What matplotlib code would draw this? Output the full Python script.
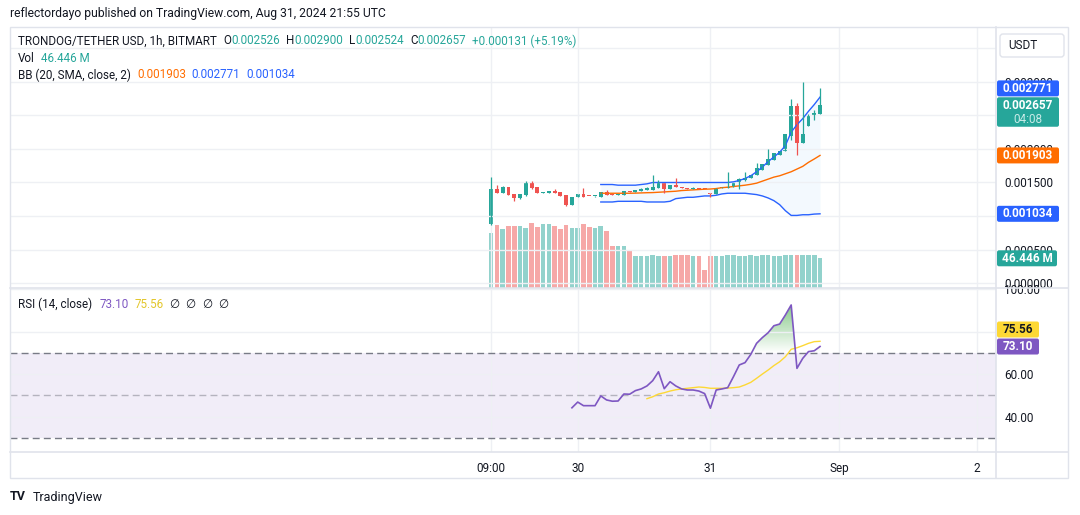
import matplotlib

matplotlib.use("Agg")

import numpy as np
import matplotlib.pyplot as plt
from matplotlib.colors import LinearSegmentedColormap
from matplotlib.lines import Line2D
from matplotlib.patches import FancyBboxPatch, Rectangle
from matplotlib.path import Path
from matplotlib.transforms import IdentityTransform

plt.rcParams["font.family"] = ["Roboto", "DejaVu Sans"]

# ---- data (1h candles, index 0 = Aug 29 09:00) ----
opens = [0.000882, 0.001403, 0.001348, 0.001429, 0.001329, 0.001265, 0.001314, 0.001488,
         0.001429, 0.001348, 0.00135, 0.001373, 0.00136, 0.001314, 0.00117, 0.00128,
         0.001329, 0.0013, 0.001294, 0.001289, 0.001359, 0.00132, 0.001315, 0.00132,
         0.001373, 0.001355, 0.001379, 0.001385, 0.001389, 0.001414, 0.001488, 0.001403,
         0.001463, 0.00143, 0.001421, 0.001409, 0.001414, 0.001404, 0.00134, 0.001329,
         0.001414, 0.00142, 0.001433, 0.001488, 0.00153, 0.001562, 0.001612, 0.001686,
         0.00176, 0.001835, 0.001909, 0.001969, 0.002196, 0.002638, 0.002092, 0.002345,
         0.002494, 0.002526]
highs = [0.001586, 0.001461, 0.00145, 0.001432, 0.001332, 0.001335, 0.001522, 0.001522,
         0.001432, 0.001362, 0.001376, 0.0014, 0.001362, 0.001316, 0.00128, 0.001333,
         0.001418, 0.001302, 0.0013, 0.001362, 0.001389, 0.001322, 0.001322, 0.001376,
         0.001376, 0.001392, 0.001414, 0.001438, 0.001612, 0.001537, 0.00149, 0.001466,
         0.001562, 0.001433, 0.001424, 0.001433, 0.001416, 0.001406, 0.00135, 0.001416,
         0.001433, 0.001652, 0.001492, 0.001562, 0.001661, 0.001615, 0.001786, 0.001774,
         0.001998, 0.001938, 0.001972, 0.00222, 0.002743, 0.002679, 0.00299, 0.00252,
         0.002579, 0.0029]
lows = [0.00087, 0.00134, 0.001345, 0.001318, 0.001229, 0.00126, 0.001296, 0.001403,
        0.001345, 0.001346, 0.001348, 0.001348, 0.0013, 0.001155, 0.001168, 0.001278,
        0.001288, 0.001292, 0.00129, 0.001287, 0.001317, 0.001312, 0.001313, 0.001318,
        0.001362, 0.001353, 0.001377, 0.001383, 0.001387, 0.001412, 0.001339, 0.0014,
        0.001427, 0.001418, 0.001407, 0.001407, 0.001402, 0.001398, 0.00128, 0.001327,
        0.001412, 0.001418, 0.00143, 0.001403, 0.001528, 0.00156, 0.00161, 0.001684,
        0.001758, 0.001833, 0.001907, 0.001967, 0.002132, 0.001909, 0.00209, 0.002343,
        0.00243, 0.002524]
closes = [0.001403, 0.001348, 0.001437, 0.001318, 0.001265, 0.001329, 0.001488, 0.001423,
          0.001348, 0.00136, 0.001373, 0.00135, 0.0013, 0.001165, 0.00128, 0.001329,
          0.00129, 0.001294, 0.001298, 0.001359, 0.001319, 0.001315, 0.00132, 0.001373,
          0.001365, 0.001389, 0.001399, 0.001414, 0.001438, 0.001488, 0.001403, 0.001463,
          0.00143, 0.00142, 0.001409, 0.001414, 0.001404, 0.0014, 0.001335, 0.001414,
          0.00142, 0.00143, 0.001488, 0.001552, 0.001571, 0.001612, 0.001711, 0.001771,
          0.00185, 0.001935, 0.001969, 0.002217, 0.002638, 0.002092, 0.002217, 0.002494,
          0.00253, 0.002657]
volume_m = [85.5, 98.0, 91.7, 96.4, 96.4, 96.4, 93.3, 101.1, 94.9, 99.6, 99.6, 96.4,
            91.7, 98.0, 93.3, 93.3, 99.6, 94.9, 93.3, 96.4, 88.6, 65.2, 65.2, 65.2,
            58.9, 49.5, 49.5, 49.5, 51.1, 49.5, 49.5, 49.5, 51.1, 51.1, 51.1, 49.5,
            49.5, 27.6, 49.5, 49.5, 49.5, 51.1, 51.1, 49.5, 49.5, 51.1, 49.5, 51.1,
            51.1, 49.5, 49.5, 51.1, 51.1, 51.1, 51.1, 51.1, 51.1, 46.446]

# Bollinger Bands (20, SMA, close, 2), first value at candle 19
bb_start = 19
bb_upper = [0.00147, 0.00147, 0.00147, 0.00146, 0.00146, 0.00146, 0.00146, 0.00147,
            0.00148, 0.00150, 0.00150, 0.00150, 0.00150, 0.00150, 0.00150, 0.00150,
            0.00150, 0.00150, 0.00150, 0.00150, 0.00150, 0.00150, 0.00150, 0.00151,
            0.00153, 0.00156, 0.00160, 0.00166, 0.00173, 0.00181, 0.00188, 0.00195,
            0.00205, 0.00225, 0.00236, 0.00245, 0.00256, 0.00266, 0.002771]
bb_mid = [0.00134, 0.00134, 0.00134, 0.00134, 0.00134, 0.00134, 0.001342, 0.001345,
          0.001348, 0.00135, 0.001355, 0.00136, 0.001365, 0.00137, 0.00138, 0.001385,
          0.00139, 0.001395, 0.0014, 0.001403, 0.00141, 0.001423, 0.00143, 0.00144,
          0.00145, 0.00146, 0.001473, 0.00149, 0.00152, 0.00155, 0.00158, 0.0016,
          0.00163, 0.00166, 0.0017, 0.00174, 0.0018, 0.00185, 0.001903]
bb_lower = [0.00121, 0.00121, 0.00121, 0.00122, 0.00122, 0.00122, 0.00122, 0.00122,
            0.00121, 0.00121, 0.00121, 0.00121, 0.00122, 0.00126, 0.00127, 0.00128,
            0.00128, 0.00129, 0.0013, 0.0013, 0.00131, 0.00133, 0.00134, 0.00134,
            0.00134, 0.00134, 0.00133, 0.00132, 0.0013, 0.00127, 0.00123, 0.00117,
            0.00108, 0.00101, 0.00101, 0.00102, 0.00102, 0.00103, 0.001034]

# RSI (14, close) from candle 14, its MA from candle 27
rsi_start = 14
rsi_vals = [44.2, 46.9, 45.2, 45.2, 45.2, 49.8, 47.9, 47.3, 47.4, 50.7, 50.6, 52.3,
            53.1, 54.5, 57.0, 61.2, 53.2, 56.5, 54.5, 53.1, 52.6, 52.6, 52.1, 50.9,
            44.0, 52.6, 53.1, 53.7, 58.9, 64.4, 65.5, 69.4, 74.6, 77.3, 79.6, 82.9,
            83.7, 88.0, 92.7, 62.8, 67.5, 70.7, 71.1, 73.10]
rsi_ma_start = 27
rsi_ma = [48.5, 49.4, 50.7, 51.3, 52.1, 52.7, 53.1, 53.4, 53.7, 54.0, 53.8, 53.4,
          53.4, 53.4, 53.5, 53.7, 54.0, 55.0, 56.2, 58.1, 60.1, 62.0, 64.1, 65.9,
          68.3, 71.8, 72.5, 73.5, 74.6, 75.4, 75.56]

price_ticks = [0.0, 0.0005, 0.001, 0.0015, 0.002, 0.0025, 0.003, 0.0035]
# labels of 0.001 and 0.0025 sit fully under the value tags, so they stay blank
price_labels = ["0.000000", "0.000500", "", "0.001500", "0.002000", "", "0.003000", ""]
rsi_ticks = [40, 60, 80, 100]
rsi_labels = ["40.00", "60.00", "", "100.00"]
xtick_pos = [0, 15, 38, 60.3, 84.2]
xtick_labels = ["09:00", "30", "31", "Sep", "2"]

HEADER = "reflectordayo published on TradingView.com, Aug 31, 2024 21:55 UTC"

# ---- colours ----
UP, DOWN = "#26a69a", "#ef5350"
DARK = "#131722"
GRID = "#eef0f4"
BORDER = "#e0e3eb"
BLUE, ORANGE = "#2962ff", "#ff6d00"
PURPLE, YELLOW = "#7e57c2", "#fdd835"

W, H = 1080, 515
fig = plt.figure(figsize=(W / 100, H / 100), dpi=100)
fig.patch.set_facecolor("white")


def rect(x0, y0, x1, y1):
    # pixel box with top-left origin -> add_axes rect
    return [x0 / W, 1 - y1 / H, (x1 - x0) / W, (y1 - y0) / H]


XL = (-83.4, 87.5)
idx = np.arange(len(opens))
o, h, l, c = map(np.array, (opens, highs, lows, closes))
cols = np.where(c >= o, UP, DOWN)

# ---- main pane: volume behind, price on top ----
ax = fig.add_axes(rect(10, 27, 996, 288))
axv = ax.twinx()
axv.set_zorder(ax.get_zorder() - 1)
ax.patch.set_visible(False)
axv.patch.set_facecolor("white")

axv.bar(idx, volume_m, width=0.8, color=cols, alpha=0.5, linewidth=0)
axv.set_ylim(0, 408)
axv.set_yticks([])

ax.set_xlim(*XL)
ax.set_ylim(-0.00007, 0.003814)
px = 1 / 67200  # one pixel in price units, for doji bodies
bb_x = np.arange(bb_start, bb_start + len(bb_mid))
ax.fill_between(bb_x, bb_lower, bb_upper, color="#2196f3", alpha=0.05, linewidth=0)
ax.plot(bb_x, bb_upper, color=BLUE, lw=1)
ax.plot(bb_x, bb_lower, color=BLUE, lw=1)
ax.plot(bb_x, bb_mid, color=ORANGE, lw=1)
ax.vlines(idx, l, h, colors=cols, lw=0.9)
ax.bar(idx, np.maximum(np.abs(c - o), px), bottom=np.minimum(o, c), width=0.68,
       color=cols, linewidth=0)

ax.yaxis.tick_right()
ax.set_yticks(price_ticks, price_labels)
ax.set_xticks(xtick_pos)
ax.tick_params(axis="both", length=0, labelsize=8.5, labelcolor=DARK, pad=6)
ax.tick_params(axis="x", labelbottom=False)
ax.grid(True, color=GRID, lw=1)
for s in ax.spines.values():
    s.set_visible(False)
for s in axv.spines.values():
    s.set_visible(False)

# ---- RSI pane ----
axr = fig.add_axes(rect(10, 288, 996, 452))
axr.set_xlim(*XL)
axr.set_ylim(23.35, 100.7)
axr.axhspan(30, 70, color=PURPLE, alpha=0.1, lw=0)
axr.axhline(70, color="#787b86", lw=1, dashes=(5, 3))
axr.axhline(50, color="#787b86", lw=1, dashes=(5, 3), alpha=0.5)
axr.axhline(30, color="#787b86", lw=1, dashes=(5, 3))

rsi_x = np.arange(rsi_start, rsi_start + len(rsi_vals))
rsi = np.array(rsi_vals)
poly = axr.fill_between(rsi_x, 70, rsi, where=rsi >= 70, interpolate=True,
                        color="none", lw=0)
green = LinearSegmentedColormap.from_list(
    "g", [(0.30, 0.69, 0.31, 0.0), (0.30, 0.69, 0.31, 0.75)])
im = axr.imshow(np.linspace(0, 1, 256).reshape(-1, 1), cmap=green, origin="lower",
                aspect="auto", extent=[rsi_x[0], rsi_x[-1], 70, 95], zorder=1.5)
im.set_clip_path(Path.make_compound_path(*poly.get_paths()), transform=axr.transData)
axr.set_xlim(*XL)
axr.set_ylim(23.35, 100.7)

ma_x = np.arange(rsi_ma_start, rsi_ma_start + len(rsi_ma))
axr.plot(ma_x, rsi_ma, color=YELLOW, lw=1, zorder=3)
axr.plot(rsi_x, rsi, color=PURPLE, lw=1.2, zorder=4)

axr.yaxis.tick_right()
axr.set_yticks(rsi_ticks, rsi_labels)
axr.set_xticks(xtick_pos, xtick_labels)
axr.tick_params(axis="both", length=0, labelsize=8.5, labelcolor=DARK)
axr.tick_params(axis="y", pad=6)
axr.tick_params(axis="x", pad=7)
axr.grid(True, color=GRID, lw=1)
for s in axr.spines.values():
    s.set_visible(False)

# ---- frame lines ----
fig.add_artist(Rectangle((10 / W, 1 - 478 / H), 1058 / W, 451 / H, fill=False,
                         ec=BORDER, lw=1, transform=fig.transFigure))
for xs, ys in [((996, 996), (27, 478)), ((10, 1068), (288, 288)), ((10, 1068), (452, 452))]:
    fig.add_artist(Line2D([x / W for x in xs], [1 - y / H for y in ys], color=BORDER,
                          lw=1.2, transform=fig.transFigure))

# ---- texts ----
renderer = fig.canvas.get_renderer()


def text_run(x, y, pieces, size=8.4):
    for s, col, gap in pieces:
        t = fig.text(x / W, 1 - y / H, s, color=col, fontsize=size, va="center", ha="left")
        x += t.get_window_extent(renderer).width + gap


fig.text(10 / W, 1 - 14 / H, HEADER, color=DARK, fontsize=8.7, va="center")
text_run(18, 41, [("TRONDOG/TETHER USD, 1h, BITMART", DARK, 7), ("O", DARK, 0),
                  ("0.002526", UP, 6), ("H", DARK, 0), ("0.002900", UP, 6),
                  ("L", DARK, 0), ("0.002524", UP, 6), ("C", DARK, 0),
                  ("0.002657", UP, 6), ("+0.000131 (+5.19%)", UP, 0)])
text_run(18, 58, [("Vol", DARK, 6), ("46.446 M", UP, 0)])
text_run(18, 75, [("BB (20, SMA, close, 2)", DARK, 6), ("0.001903", ORANGE, 6),
                  ("0.002771", BLUE, 6), ("0.001034", BLUE, 0)])
text_run(18, 304, [("RSI (14, close)", DARK, 7), ("73.10", PURPLE, 6),
                   ("75.56", "#e3c62a", 6), ("∅", DARK, 6), ("∅", DARK, 6),
                   ("∅", DARK, 6), ("∅", DARK, 0)])

# USDT box
fig.add_artist(FancyBboxPatch((1000, H - 57), 64, 23, boxstyle="round,pad=0,rounding_size=3",
                              fc="white", ec=BORDER, lw=1, transform=IdentityTransform()))
fig.text(1008, H - 45.5, "USDT", color=DARK, fontsize=8.5, va="center",
         transform=IdentityTransform())


def tag(axis, value, label, fc, tc="white", w=62, hgt=16, shift=0.0):
    yc = axis.transData.transform((0, value))[1] - shift
    fig.add_artist(FancyBboxPatch((997, yc - hgt / 2), w, hgt,
                                  boxstyle="round,pad=0,rounding_size=2", fc=fc, ec="none",
                                  transform=IdentityTransform()))
    fig.text(997 + w / 2, yc, label, color=tc, fontsize=8.5, fontweight="bold",
             ha="center", va="center", transform=IdentityTransform())
    return yc


tag(ax, bb_upper[-1], f"{bb_upper[-1]:.6f}", BLUE, shift=-8.7)
# last price tag with countdown
yc = ax.transData.transform((0, closes[-1]))[1]
fig.add_artist(FancyBboxPatch((997, yc - 22), 62, 29.5, boxstyle="round,pad=0,rounding_size=2",
                              fc=UP, ec="none", transform=IdentityTransform()))
fig.text(1028, yc - 1.2, f"{closes[-1]:.6f}", color="white", fontsize=8.5, fontweight="bold",
         ha="center", va="center", transform=IdentityTransform())
fig.text(1028, yc - 15, "04:08", color="#c8ebe7", fontsize=8.5,
         ha="center", va="center", transform=IdentityTransform())
tag(ax, bb_mid[-1], f"{bb_mid[-1]:.6f}", ORANGE)
tag(ax, bb_lower[-1], f"{bb_lower[-1]:.6f}", BLUE)
tag(axv, volume_m[-1], f"{volume_m[-1]:.3f} M", UP, w=60)
tag(axr, rsi_ma[-1], f"{rsi_ma[-1]:.2f}", YELLOW, tc=DARK, w=42, shift=-11.8)
tag(axr, rsi_vals[-1], f"{rsi_vals[-1]:.2f}", PURPLE, w=42)

# TradingView footer
fig.text(10 / W, 1 - 497 / H, "TV", color=DARK, fontsize=9, fontweight="bold", va="center")
fig.text(33 / W, 1 - 497 / H, "TradingView", color=DARK, fontsize=9, va="center")

fig.savefig("out.png", dpi=100, facecolor="white")
